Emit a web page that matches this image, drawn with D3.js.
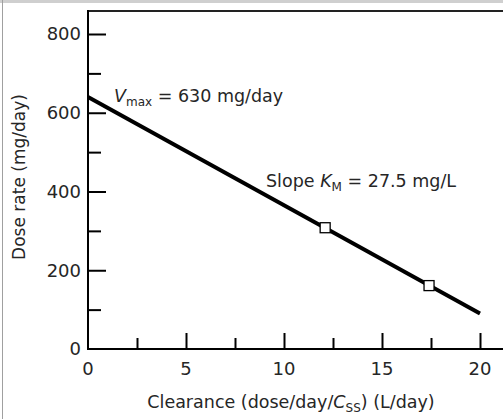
<!DOCTYPE html>
<meta charset="utf-8">
<head>
<style>
body { margin: 0; background: #fff; }
svg text { font-family: "DejaVu Sans", sans-serif; fill: #262626; }
.axis path, .axis line { stroke: #000; stroke-width: 2px; }
</style>
</head>
<body>
<script src="https://d3js.org/d3.v7.min.js"></script>
<script>

// chart values
var xTicks = [0, 5, 10, 15, 20];
var xMinor = [2.5, 7.5, 12.5, 17.5];
var yTicks = [0, 200, 400, 600, 800];
var yMinor = [100, 300, 500, 700];
var lineX = [0, 20];
var lineY = [640, 90];
var pointX = [12.1, 17.4];
var pointY = [308, 161];

var W = 503, H = 419;

var svg = d3.select("body").append("svg")
    .attr("width", W)
    .attr("height", H);

// frame round the picture
svg.append("rect").attr("x", 0).attr("y", 0).attr("width", W).attr("height", 3).attr("fill", "#cfcfcf");
svg.append("line").attr("x1", 2.5).attr("x2", 2.5).attr("y1", 0).attr("y2", H)
    .attr("stroke", "#a0a0a0").attr("stroke-width", 1);

var x = d3.scaleLinear().domain([0, 20]).range([88, 480]);
var y = d3.scaleLinear().domain([0, 800]).range([349, 34]);

var x0 = x(0), y0 = y(0);

// top border line
svg.append("line")
    .attr("x1", x0 - 1).attr("x2", W)
    .attr("y1", 11).attr("y2", 11)
    .attr("stroke", "#222").attr("stroke-width", 2.2);

// x axis
var gx = svg.append("g").attr("class", "axis")
    .attr("transform", "translate(0," + y0 + ")")
    .call(d3.axisTop(x).tickValues(xTicks).tickSize(16).tickSizeOuter(0).tickFormat(""));
gx.select(".domain").remove();
gx.append("line").attr("x1", x0 - 1).attr("x2", W).attr("y1", 0).attr("y2", 0)
    .attr("stroke", "#000").attr("stroke-width", 2);
gx.selectAll(".tick").filter(function(d) { return d === 0; }).remove();
svg.append("g").attr("class", "axis")
    .attr("transform", "translate(0," + y0 + ")")
    .call(d3.axisTop(x).tickValues(xMinor).tickSize(11).tickFormat(""))
    .select(".domain").remove();

svg.selectAll(".xlab").data(xTicks).enter().append("text")
    .attr("class", "xlab")
    .attr("x", function(d) { return x(d); })
    .attr("y", y0 + 26)
    .attr("text-anchor", "middle")
    .attr("font-size", 18)
    .text(function(d) { return d; });

// y axis
var gy = svg.append("g").attr("class", "axis")
    .attr("transform", "translate(" + x0 + ",0)")
    .call(d3.axisRight(y).tickValues(yTicks).tickSize(18).tickSizeOuter(0).tickFormat(""));
gy.select(".domain").remove();
gy.selectAll(".tick").filter(function(d) { return d === 0; }).remove();
gy.append("line").attr("x1", 0).attr("x2", 0).attr("y1", y0 + 1).attr("y2", 10)
    .attr("stroke", "#000").attr("stroke-width", 2);
svg.append("g").attr("class", "axis")
    .attr("transform", "translate(" + x0 + ",0)")
    .call(d3.axisRight(y).tickValues(yMinor).tickSize(13).tickFormat(""))
    .select(".domain").remove();

svg.selectAll(".ylab").data(yTicks).enter().append("text")
    .attr("class", "ylab")
    .attr("x", x0 - 7)
    .attr("y", function(d) { return y(d); })
    .attr("dy", "0.36em")
    .attr("text-anchor", "end")
    .attr("font-size", 18)
    .text(function(d) { return d; });

// the line
var pts = lineX.map(function(v, i) { return [v, lineY[i]]; });
svg.append("path")
    .datum(pts)
    .attr("fill", "none")
    .attr("stroke", "#000")
    .attr("stroke-width", 4)
    .attr("d", d3.line().x(function(d) { return x(d[0]); }).y(function(d) { return y(d[1]); }));

// square markers
svg.selectAll(".pt").data(pointX).enter().append("rect")
    .attr("class", "pt")
    .attr("x", function(d) { return x(d) - 5; })
    .attr("y", function(d, i) { return y(pointY[i]) - 5; })
    .attr("width", 10).attr("height", 10)
    .attr("fill", "#fff").attr("stroke", "#000").attr("stroke-width", 1.3);

// annotations
var t1 = svg.append("text").attr("x", 114).attr("y", 102).attr("font-size", 17.5);
t1.append("tspan").attr("font-style", "italic").text("V");
t1.append("tspan").attr("font-size", 12).attr("dy", 4).text("max");
t1.append("tspan").attr("dy", -4).text(" = 630 mg/day");

var t2 = svg.append("text").attr("x", 266).attr("y", 187).attr("font-size", 17.5);
t2.append("tspan").text("Slope ");
t2.append("tspan").attr("font-style", "italic").text("K");
t2.append("tspan").attr("font-size", 12).attr("dy", 4).text("M");
t2.append("tspan").attr("dy", -4).text(" = 27.5 mg/L");

// axis titles
var tx = svg.append("text").attr("x", 291).attr("y", 408).attr("text-anchor", "middle").attr("font-size", 17.5);
tx.append("tspan").text("Clearance (dose/day/");
tx.append("tspan").attr("font-style", "italic").text("C");
tx.append("tspan").attr("font-size", 12).attr("dy", 4).text("SS");
tx.append("tspan").attr("dy", -4).text(") (L/day)");

svg.append("text")
    .attr("transform", "translate(25,177) rotate(-90)")
    .attr("text-anchor", "middle")
    .attr("font-size", 17)
    .text("Dose rate (mg/day)");

</script>
</body>
